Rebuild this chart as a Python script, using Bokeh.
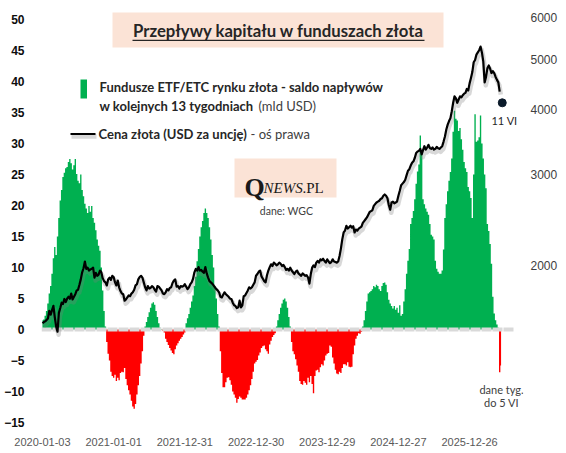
import math
from bokeh.plotting import figure
from bokeh.models import (ColumnDataSource, Range1d, LogScale, LogAxis, FixedTicker,
                          BoxAnnotation, Label, PrintfTickFormatter)
from bokeh.embed import file_html
from bokeh.resources import INLINE

# ---------------- data ----------------
tick_idx = [0, 52, 104, 156, 208, 260, 312]          # week index of each date label
tick_labels = ["2020-01-03", "2021-01-01", "2021-12-31", "2022-12-30",
               "2023-12-29", "2024-12-27", "2025-12-26"]

# 13-week net flows into gold ETFs/ETCs (bn USD), weekly from 2020-01-03
flows = [
    1.5, 1.6, 2.2, 3.0, 4.2, 5.8, 7.0, 9.0, 11.5, 13.3,
    12.0, 15.0, 18.0, 20.8, 22.5, 24.6, 25.3, 26.0, 26.2, 27.0,
    27.5, 26.8, 25.8, 26.5, 27.5, 25.1, 24.0, 23.6, 25.0, 22.5,
    21.5, 20.3, 19.5, 18.8, 19.9, 19.0, 19.9, 18.0, 17.2, 16.0,
    14.5, 13.5, 12.7, 10.0, 6.3, 3.0, 0.5, -2.0, -3.9, -5.0,
    -6.8, -7.5, -7.8, -7.3, -8.3, -7.8, -8.2, -7.0, -6.8, -6.9,
    -6.2, -8.0, -9.0, -9.8, -10.5, -11.5, -12.4, -12.8, -12.0, -10.5,
    -9.0, -7.5, -5.5, -3.5, -1.0, 0.5, 1.2, 2.0, 2.8, 3.5,
    4.2, 4.4, 4.0, 3.0, 2.0, 1.0, 0.3, 0.1, -0.2, -0.5,
    -1.5, -2.0, -2.5, -3.0, -3.4, -3.8, -4.0, -3.2, -2.6, -2.2,
    -1.8, -1.5, -1.2, -0.8, -0.5, 1.0, 1.8, 2.5, 3.5, 4.5,
    5.5, 7.0, 8.5, 11.0, 13.0, 15.0, 16.5, 17.5, 18.8, 19.5,
    18.8, 18.0, 16.5, 14.5, 12.0, 10.0, 7.0, 5.0, 2.5, 0.5,
    -3.5, -7.0, -9.3, -9.3, -8.5, -7.8, -7.7, -8.2, -8.9, -10.0,
    -10.5, -11.0, -11.8, -11.2, -10.8, -11.0, -11.3, -11.3, -11.3, -11.0,
    -10.5, -9.8, -9.0, -8.0, -6.8, -5.5, -5.2, -4.9, -4.2, -3.7,
    -3.0, -2.7, -2.6, -3.2, -3.5, -3.9, -2.4, -1.8, -1.2, -0.9,
    -0.6, 0.5, 1.5, 2.5, 3.5, 4.2, 4.8, 5.0, 4.5, 3.5,
    2.0, 0.5, -2.0, -3.5, -4.0, -4.8, -5.8, -6.8, -8.3, -8.8,
    -8.9, -8.3, -8.6, -8.9, -7.8, -8.5, -7.5, -8.8, -10.3, -7.5,
    -6.6, -6.5, -6.9, -6.1, -5.6, -5.8, -5.0, -4.2, -3.9, -3.8,
    -2.6, -2.8, -4.5, -5.5, -6.5, -7.1, -7.2, -6.8, -7.0, -6.2,
    -5.6, -5.6, -5.8, -5.3, -6.0, -6.1, -6.0, -4.0, -2.6, -1.5,
    -1.0, -0.6, -0.7, -0.4, 0.5, 1.5, 3.0, 4.5, 5.8, 6.0,
    6.2, 6.5, 7.0, 6.8, 7.2, 7.0, 6.5, 6.2, 7.0, 7.5,
    7.6, 7.2, 6.0, 4.8, 4.2, 3.8, 3.4, 3.8, 3.2, 3.5,
    2.7, 3.9, 2.2, 2.5, 4.5, 6.5, 9.0, 11.1, 13.0, 17.0,
    18.0, 19.1, 21.0, 23.5, 25.5, 26.6, 31.3, 28.7, 21.0, 20.2,
    19.5, 19.0, 18.5, 17.0, 15.3, 15.0, 14.5, 11.1, 9.8, 9.3,
    9.0, 9.0, 9.5, 12.9, 18.0, 20.2, 22.3, 24.0, 25.4, 27.6,
    31.9, 35.3, 34.0, 33.7, 32.0, 32.5, 30.7, 29.0, 27.0, 26.0,
    25.4, 23.0, 22.3, 21.2, 18.0, 25.0, 34.7, 30.3, 30.5, 31.0,
    34.5, 30.0, 27.6, 25.0, 22.8, 17.0, 15.9, 13.8, 10.6, 5.3,
    2.6, 1.5, 0.8, 0.3, -6.9, -5.8,
]

# gold price (USD/oz), weekly from 2020-01-03 (right axis, log scale)
gold = [
    1552, 1560, 1565, 1575, 1585, 1640, 1612, 1645, 1676, 1595,
    1530, 1495, 1625, 1660, 1700, 1690, 1728, 1705, 1730, 1745,
    1730, 1770, 1725, 1745, 1765, 1795, 1800, 1840, 1885, 1945,
    1980, 2040, 1975, 1985, 1960, 1970, 1975, 1985, 1900, 1940,
    1915, 1925, 1960, 1945, 1895, 1870, 1860, 1835, 1885, 1900,
    1880, 1915, 1905, 1860, 1835, 1875, 1820, 1790, 1770, 1765,
    1715, 1725, 1740, 1755, 1750, 1770, 1780, 1800, 1835, 1845,
    1885, 1905, 1915, 1900, 1860, 1820, 1795, 1830, 1810, 1815,
    1830, 1820, 1800, 1785, 1830, 1825, 1810, 1795, 1770, 1765,
    1780, 1805, 1795, 1815, 1820, 1855, 1875, 1885, 1825, 1830,
    1810, 1830, 1825, 1830, 1845, 1825, 1805, 1820, 1845, 1860,
    1890, 1945, 1975, 1960, 1990, 1960, 1965, 1950, 1940, 1990,
    1935, 1900, 1870, 1860, 1850, 1835, 1820, 1805, 1795, 1780,
    1745, 1740, 1760, 1780, 1765, 1755, 1745, 1730, 1728, 1700,
    1680, 1675, 1660, 1665, 1715, 1665, 1680, 1750, 1755, 1775,
    1795, 1820, 1810, 1820, 1840, 1860, 1915, 1930, 1950, 1960,
    1910, 1890, 1870, 1860, 1920, 1960, 1990, 2015, 2000, 2030,
    2020, 2005, 2015, 2030, 2020, 2000, 2010, 1990, 1965, 1975,
    1960, 1985, 1960, 1945, 1930, 1950, 1960, 1935, 1925, 1915,
    1935, 1925, 1915, 1920, 1900, 1850, 1930, 1985, 2005, 1990,
    2030, 2045, 2030, 2060, 2050, 2065, 2045, 2030, 2060, 2040,
    2025, 2035, 2060, 2040, 2035, 2030, 2040, 2090, 2160, 2250,
    2320, 2340, 2390, 2360, 2375, 2390, 2370, 2385, 2320, 2350,
    2340, 2360, 2370, 2380, 2420, 2440, 2460, 2480, 2510, 2540,
    2550, 2560, 2610, 2630, 2650, 2660, 2670, 2690, 2700, 2730,
    2745, 2730, 2700, 2620, 2565, 2650, 2660, 2640, 2650, 2660,
    2730, 2790, 2860, 2880, 2900, 2930, 2990, 3050, 3070, 3120,
    3160, 3180, 3230, 3300, 3320, 3330, 3360, 3280, 3340, 3400,
    3350, 3380, 3420, 3370, 3360, 3380, 3350, 3360, 3390, 3370,
    3360, 3380, 3400, 3470, 3550, 3660, 3740, 3800, 3850, 3970,
    4120, 4240, 4200, 4120, 4180, 4240, 4220, 4260, 4290, 4305,
    4380, 4350, 4490, 4600, 4720, 4930, 4980, 5100, 5150, 5200,
    5285, 5150, 4950, 4510, 4620, 4800, 4860, 4790, 4700, 4740,
    4700, 4620, 4560, 4510, 4330,
]

last_price_idx = 335.86      # 11 VI 2026
last_price = 4120

left_ticks = list(range(-15, 51, 5))
right_ticks = [2000, 3000, 4000, 5000, 6000]

# ---------------- geometry helpers (pixel -> data) ----------------
W, H = 566, 453
FX0, FX1 = 41, 523           # frame; the category axis itself ends at AXIS_END
AXIS_END = 513
FY_TOP, FY_BOT = 8, 422
PX_PER_WEEK = 1.369
X0 = -0.7
X1 = X0 + (FX1 - FX0) / PX_PER_WEEK
PX_PER_UNIT = 6.2
Y_BOT = -15
Y_TOP = Y_BOT + (FY_BOT - FY_TOP) / PX_PER_UNIT
PX_PER_LN = 225.8
R_BOT = 1000
R_TOP = R_BOT * math.exp((FY_BOT - FY_TOP) / PX_PER_LN)


def dx(px):
    return X0 + (px - FX0) / PX_PER_WEEK


def dy(py):
    return Y_BOT + (FY_BOT - py) / PX_PER_UNIT


GREEN = "#00B050"
RED = "#FF0000"

p = figure(width=W, height=H, title=None, toolbar_location=None, output_backend="svg",
           x_range=Range1d(X0, X1), y_range=Range1d(Y_BOT, Y_TOP),
           min_border_left=FX0, min_border_right=W - FX1,
           min_border_top=FY_TOP, min_border_bottom=H - FY_BOT)
p.extra_y_ranges = {"price": Range1d(R_BOT, R_TOP)}
p.extra_y_scales = {"price": LogScale()}
p.grid.visible = False
p.outline_line_color = None
p.background_fill_color = "white"
p.border_fill_color = "white"

# x axis
xa = p.xaxis[0]
xa.ticker = FixedTicker(ticks=tick_idx)
xa.major_label_overrides = {t: lab for t, lab in zip(tick_idx, tick_labels)}
xa.axis_line_color = None
xa.major_tick_line_color = None
xa.minor_tick_line_color = None
xa.major_label_text_font = "Liberation Sans"
xa.major_label_text_font_size = "11px"
xa.major_label_text_color = "#595959"
xa.major_label_standoff = 9

# left axis
ya = p.yaxis[0]
ya.ticker = FixedTicker(ticks=left_ticks)
ya.axis_line_color = None
ya.major_tick_line_color = None
ya.minor_tick_line_color = None
ya.major_label_text_font = "Liberation Sans"
ya.major_label_text_font_size = "12px"
ya.major_label_text_font_style = "bold"
ya.major_label_text_color = "#0d0d0d"
ya.major_label_standoff = 11

# right (log) axis
ra = LogAxis(y_range_name="price", ticker=FixedTicker(ticks=right_ticks),
             formatter=PrintfTickFormatter(format="%d"))
ra.axis_line_color = None
ra.major_tick_line_color = None
ra.minor_tick_line_color = None
ra.major_label_text_font = "Liberation Sans"
ra.major_label_text_font_size = "12px"
ra.major_label_text_color = "#404040"
ra.major_label_standoff = 1
p.add_layout(ra, "right")

# weekly bars, drawn as centred steps (one bar per week, no seams between weeks)
bar_x = list(range(len(flows)))
pos = [v if v > 0 else 0 for v in flows]
neg = [v if v < 0 else 0 for v in flows]
src = ColumnDataSource(dict(x=bar_x, pos=pos, neg=neg))
p.varea_step(x="x", y1=0, y2="pos", step_mode="center", source=src,
             fill_color=GREEN)
p.varea_step(x="x", y1=0, y2="neg", step_mode="center", source=src,
             fill_color=RED)

# zero (category) axis line
p.segment(x0=[dx(FX0)], y0=[0], x1=[dx(AXIS_END)], y1=[0],
          line_color="#D9D9D9", line_width=4, line_dash="10 1")

# gold price line with soft shadow
gx = list(range(len(gold)))
p.line([x + 0.8 for x in gx], [g * math.exp(-3.0 / PX_PER_LN) for g in gold],
       y_range_name="price", line_color="#7f7f7f", line_alpha=0.3, line_width=4.5,
       line_join="round")
p.line(gx, gold, y_range_name="price", line_color="black", line_width=2.2,
       line_join="round")
p.scatter([last_price_idx], [last_price], y_range_name="price", size=8,
          fill_color="#0b1a2a", line_color="#0b1a2a")

# ---------------- annotations ----------------
def label(px, py, text, size, style="normal", color="#262626", font="Lato",
          align="left", baseline="middle"):
    p.add_layout(Label(x=dx(px), y=dy(py), text=text, text_font=font,
                       text_font_size=size, text_font_style=style,
                       text_color=color, text_align=align, text_baseline=baseline))


# title box
p.add_layout(BoxAnnotation(left=dx(112), right=dx(443), top=dy(12), bottom=dy(47),
                           fill_color="#FBE3D6", fill_alpha=1.0, line_color=None))
label(278, 30, "Przepływy kapitału w funduszach złota", "16.7px", "bold", "#262626",
      align="center")
# underline of the title
p.add_layout(BoxAnnotation(left=dx(132), right=dx(424), top=dy(39.2), bottom=dy(40.6),
                           fill_color="#262626", fill_alpha=1.0, line_color=None))

# legend: bars
p.add_layout(BoxAnnotation(left=dx(80), right=dx(86.5), top=dy(79), bottom=dy(98),
                           fill_color=GREEN, fill_alpha=1.0, line_color=None))
label(99, 86, "Fundusze ETF/ETC rynku złota - saldo napływów", "13px", "bold", "#262626")
label(99, 105, "w kolejnych 13 tygodniach", "13px", "bold", "#262626")
label(258, 105, "(mld USD)", "13px", "normal", "#404040")

# legend: line
p.segment(x0=[dx(71)], y0=[dy(136)], x1=[dx(96)], y1=[dy(136)],
          line_color="#7f7f7f", line_alpha=0.3, line_width=4.5)
p.segment(x0=[dx(70)], y0=[dy(133.5)], x1=[dx(95)], y1=[dy(133.5)],
          line_color="black", line_width=2.2)
label(98, 133, "Cena złota (USD za uncję)", "13px", "bold", "#262626")
label(250, 133, "- oś prawa", "13px", "normal", "#404040")

# QNEWS.PL box
p.add_layout(BoxAnnotation(left=dx(234), right=dx(336), top=dy(158), bottom=dy(197),
                           fill_color="#FBE3D6", fill_alpha=1.0, line_color=None))
label(244, 187, "Q", "26px", "bold", "#1a1a1a", font="Liberation Serif",
      baseline="alphabetic")
label(263, 187, "NEWS", "15px", "italic", "#1a1a1a", font="Liberation Serif",
      baseline="alphabetic")
label(302, 187, ".PL", "15px", "normal", "#1a1a1a", font="Liberation Serif",
      baseline="alphabetic")
label(286, 210, "dane: WGC", "10.5px", "normal", "#404040", align="center")

# end annotations
label(504, 120, "11 VI", "11px", "normal", "#262626", align="center")
label(501, 389, "dane tyg.", "11px", "normal", "#404040", align="center")
label(501, 402, "do 5 VI", "11px", "normal", "#404040", align="center")

open("out.html", "w").write(file_html(p, INLINE))
